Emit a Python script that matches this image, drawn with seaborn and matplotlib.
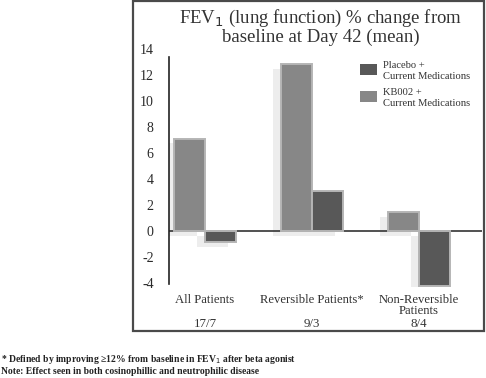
import pandas as pd
import seaborn as sns
import matplotlib.pyplot as plt
from matplotlib.patches import Rectangle

groups = ['All Patients', 'Reversible Patients*', 'Non-Reversible\nPatients']
counts = ['17/7', '9/3', '8/4']
kb002 = [7.1, 12.85, 1.45]
placebo = [-0.85, 3.05, -4.2]
series = ['KB002 +\nCurrent Medications', 'Placebo +\nCurrent Medications']
colors = {series[0]: '#878787', series[1]: '#585858'}

df = pd.DataFrame({
    'group': list(range(3)) * 2,
    'series': [series[0]] * 3 + [series[1]] * 3,
    'value': kb002 + placebo,
})

sns.set_style('white')
plt.rcParams['font.family'] = ['Liberation Serif', 'DejaVu Serif']

W, H = 486, 378
fig = plt.figure(figsize=(W / 100, H / 100), dpi=100)

# outer frame around the chart
fig.patches.append(Rectangle((133 / W, 1 - 331 / H), 351 / W, 330 / H,
                             transform=fig.transFigure, fill=False,
                             edgecolor='#4a4a4a', linewidth=1.6))

ax = fig.add_axes([169 / W, 1 - 287 / H, 313 / W, 238 / H])
sns.barplot(data=df, x='group', y='value', hue='series', hue_order=series,
            palette=colors, width=0.58, gap=0, ax=ax, legend=False,
            edgecolor='#b5b5b5', linewidth=1.4, errorbar=None, native_scale=True)

# faint drop shadow behind each bar
for p in list(ax.patches):
    x, y = p.get_xy()
    ax.add_patch(Rectangle((x - 0.07, y - 0.35), p.get_width(), p.get_height(),
                           facecolor='#ededed', edgecolor='none', zorder=0.3))

ax.set_ylim(-4.3, 14)
ax.set_xlim(-0.336, 2.59)
ax.set_yticks(range(-4, 15, 2))
ax.set_yticklabels([str(v) for v in range(-4, 15, 2)], fontsize=10, color='#2a2a2a')
ax.tick_params(axis='y', length=0, pad=11)
ax.set_xticks([])
ax.set_xlabel('')
ax.set_ylabel('')
for s in ['top', 'right', 'bottom']:
    ax.spines[s].set_visible(False)
ax.spines['left'].set_color('#222222')
ax.spines['left'].set_linewidth(1.2)
ax.spines['left'].set_bounds(-4.05, 13.4)
ax.axhline(0, color='#333333', linewidth=1.2, zorder=0.5)

# category labels and counts below the axis
for i, (g, c) in enumerate(zip(groups, counts)):
    ax.text(i, -4.8, g, ha='center', va='top', fontsize=9.1, color='#333333',
            linespacing=0.92, clip_on=False)
    ax.text(i, -7.15, c, ha='center', va='center', fontsize=9.3, color='#333333',
            clip_on=False)

# legend, placebo listed first
for k, (name, top) in enumerate([(series[1], 64), (series[0], 91)]):
    fig.patches.append(Rectangle((360 / W, 1 - (top + 11) / H), 17 / W, 11 / H,
                                 transform=fig.transFigure, facecolor=colors[name],
                                 edgecolor='none'))
    fig.text(383 / W, 1 - (top - 3) / H, name, ha='left', va='top', fontsize=7.6,
             color='#333333', linespacing=1.3)

fig.text(321 / W, 1 - 27 / H,
         'FEV$_1$ (lung function) % change from\nbaseline at Day 42 (mean)',
         ha='center', va='center', fontsize=13.5, color='#333333', linespacing=0.92)

fig.text(1 / W, 1 - 360 / H,
         '* Defined by improving \u226512% from baseline in FEV$_1$ after beta agonist',
         ha='left', va='center', fontsize=6.9, fontweight='bold', color='#222222')
fig.text(1 / W, 1 - 372 / H,
         'Note: Effect seen in both cosinophillic and neutrophilic disease',
         ha='left', va='center', fontsize=6.9, fontweight='bold', color='#222222')

fig.savefig('out.png', dpi=100)
